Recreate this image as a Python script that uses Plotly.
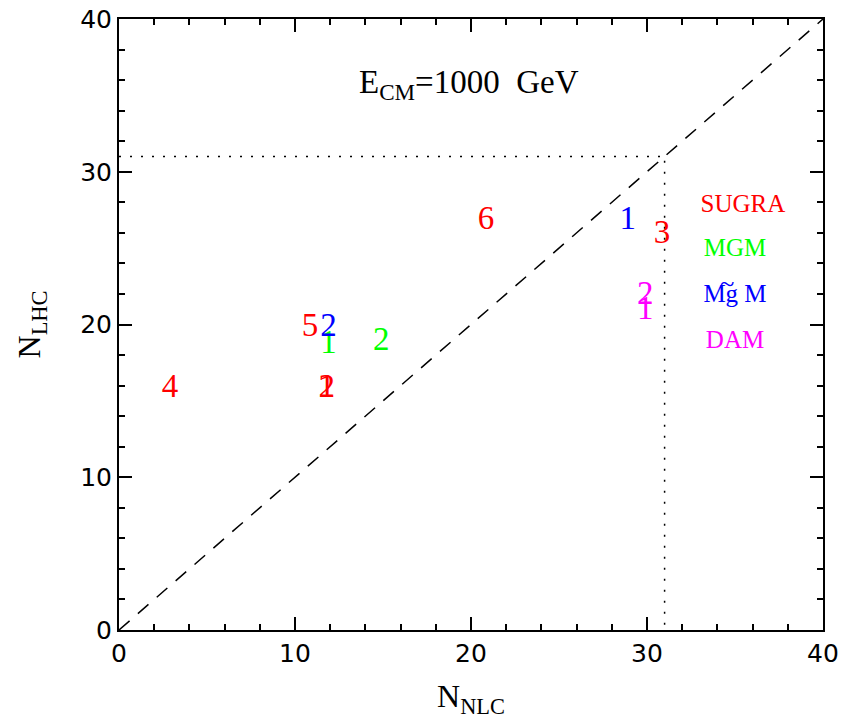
import plotly.graph_objects as go

# Data (N_NLC, N_LHC) for each model point, labelled by number
sugra_x = [11.8, 11.8, 30.85, 2.9, 10.85, 20.85]
sugra_y = [15.8, 15.8, 25.9, 15.8, 19.8, 26.8]
sugra_lbl = ["1", "2", "3", "4", "5", "6"]

mgm_x = [11.9, 14.9]
mgm_y = [18.7, 18.9]
mgm_lbl = ["1", "2"]

mgtm_x = [28.9, 11.9]
mgtm_y = [26.8, 19.8]
mgtm_lbl = ["1", "2"]

dam_x = [29.9, 29.9]
dam_y = [20.9, 21.9]
dam_lbl = ["1", "2"]

diag = [0, 40]
ref_val = 31

legend_names = ["SUGRA", "MGM", "Mg M", "DAM"]
legend_colors = ["#ff0000", "#00ff00", "#0000ff", "#ff00ff"]
legend_x = [35.45, 35.0, 35.0, 35.0]
legend_y = [27.8, 24.9, 21.9, 18.9]
tilde_x = [34.55]
tilde_y = [22.5]

tick_vals = [0, 10, 20, 30, 40]

serif = "Liberation Serif, DejaVu Serif, serif"
fig = go.Figure()

fig.add_trace(go.Scatter(x=diag, y=diag, mode="lines",
                         line=dict(color="black", width=1.5, dash="14px,11px"),
                         showlegend=False, hoverinfo="skip"))
fig.add_trace(go.Scatter(x=[0, ref_val, ref_val], y=[ref_val, ref_val, 0], mode="lines",
                         line=dict(color="black", width=1.5, dash="2px,9px"),
                         showlegend=False, hoverinfo="skip"))

for xs, ys, lbl, col in [(sugra_x, sugra_y, sugra_lbl, legend_colors[0]),
                         (mgm_x, mgm_y, mgm_lbl, legend_colors[1]),
                         (mgtm_x, mgtm_y, mgtm_lbl, legend_colors[2]),
                         (dam_x, dam_y, dam_lbl, legend_colors[3])]:
    fig.add_trace(go.Scatter(x=xs, y=ys, mode="text", text=lbl,
                             textposition="middle center",
                             textfont=dict(color=col, size=33, family=serif),
                             showlegend=False))

fig.add_trace(go.Scatter(x=legend_x, y=legend_y, mode="text", text=legend_names,
                         textposition="middle center",
                         textfont=dict(color=legend_colors, size=25, family=serif),
                         showlegend=False))
fig.add_trace(go.Scatter(x=tilde_x, y=tilde_y, mode="text", text=["~"],
                         textposition="middle center",
                         textfont=dict(color=legend_colors[2], size=27, family=serif),
                         showlegend=False))

fig.add_annotation(x=19.9, y=35.7, xref="x", yref="y", showarrow=False,
                   text="E<sub>CM</sub>=1000  GeV",
                   font=dict(size=33, family=serif, color="black"))

axis_common = dict(range=[0, 40], tickvals=tick_vals, ticks="inside", ticklen=13,
                   tickwidth=2, tickcolor="black", showline=True, linecolor="black",
                   linewidth=2, mirror="allticks", showgrid=False, zeroline=False,
                   automargin=False, ticklabeloverflow="allow",
                   tickfont=dict(size=25, family="DejaVu Sans, sans-serif", color="black"),
                   minor=dict(ticks="inside", ticklen=6, tickwidth=1.5, dtick=2,
                              tickcolor="black", showgrid=False))

# the page body adds an 8px offset, so the figure is 8px smaller and margins shifted
fig.update_layout(
    width=838, height=716,
    margin=dict(l=111, r=23, t=11, b=94),
    paper_bgcolor="white", plot_bgcolor="white",
    xaxis=dict(**axis_common,
               title=dict(text="N<sub>NLC</sub>", font=dict(size=32, family=serif, color="black"),
                          standoff=18)),
    yaxis=dict(**axis_common,
               title=dict(text="N<sub>LHC</sub>", font=dict(size=32, family=serif, color="black"),
                          standoff=30)),
)

fig.write_html("out.html")
